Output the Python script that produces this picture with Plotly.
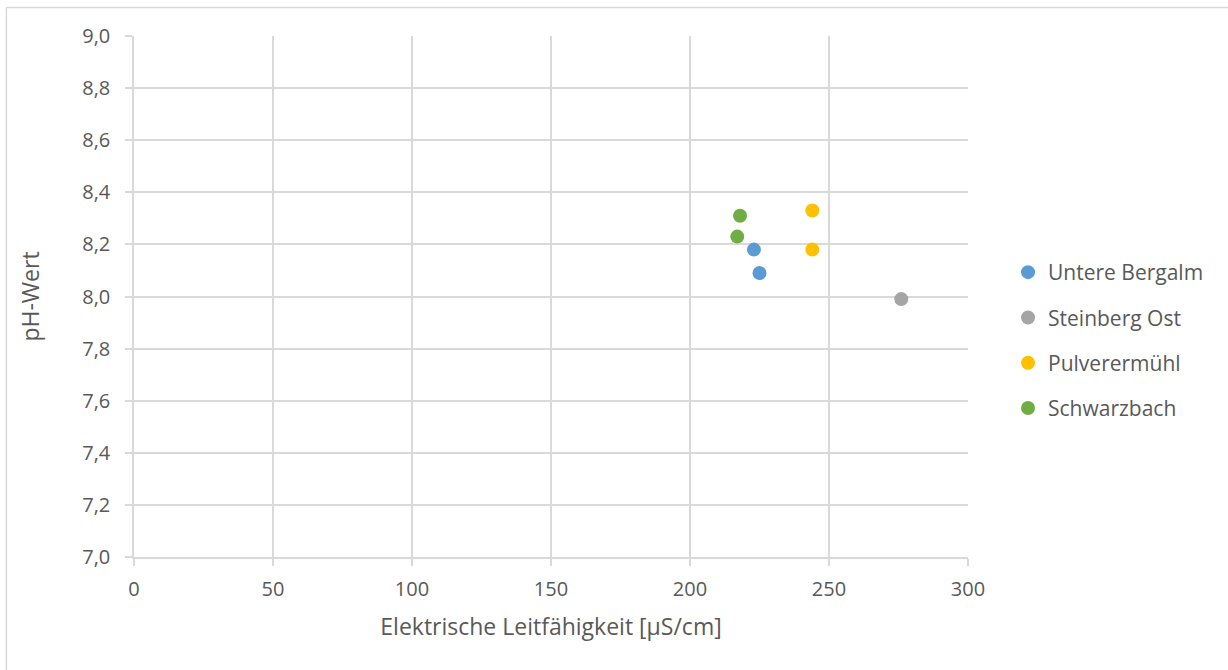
import plotly.graph_objects as go

# Messwerte je Standort: elektrische Leitfähigkeit [µS/cm] und pH-Wert
standorte = ["Untere Bergalm", "Steinberg Ost", "Pulverermühl", "Schwarzbach"]
farben = ["#5b9bd5", "#a5a5a5", "#ffc000", "#70ad47"]

leitfaehigkeit = [
    [223, 225],   # Untere Bergalm
    [276],        # Steinberg Ost
    [244, 244],   # Pulverermühl
    [218, 217],   # Schwarzbach
]
ph_wert = [
    [8.18, 8.09],
    [7.99],
    [8.33, 8.18],
    [8.31, 8.23],
]

x_ticks = [0, 50, 100, 150, 200, 250, 300]
y_ticks = [7.0, 7.2, 7.4, 7.6, 7.8, 8.0, 8.2, 8.4, 8.6, 8.8, 9.0]

FONT = "Open Sans, Calibri, sans-serif"
TEXT = "#595959"
GRID = "#d9d9d9"

fig = go.Figure()
for i, name in enumerate(standorte):
    fig.add_trace(go.Scatter(
        x=leitfaehigkeit[i], y=ph_wert[i], mode="markers", name=name,
        legendgroup=name,
        marker=dict(size=14, color=farben[i], line=dict(width=0)),
    ))

axis_common = dict(
    showgrid=True, gridcolor=GRID, gridwidth=1.5,
    showline=True, linecolor=GRID, linewidth=1.5,
    ticks="outside", ticklen=7, tickcolor=GRID, tickwidth=1.5,
    tickfont=dict(family=FONT, size=20, color=TEXT),
    zeroline=False, fixedrange=True,
)

fig.update_xaxes(
    range=[0, 300], tickvals=x_ticks, ticktext=[str(v) for v in x_ticks],
    ticklabelstandoff=6,
    title=dict(text="Elektrische Leitfähigkeit [µS/cm]", standoff=18,
               font=dict(family=FONT, size=23, color=TEXT)),
    **axis_common,
)
fig.update_yaxes(
    range=[7.0, 9.0], tickvals=y_ticks,
    ticktext=[f"{v:.1f}".replace(".", ",") for v in y_ticks],
    ticklabelstandoff=11,
    title=dict(text="pH-Wert", standoff=36,
               font=dict(family=FONT, size=23, color=TEXT)),
    **axis_common,
)

# Rahmen des Diagrammbereichs
fig.add_shape(type="line", xref="paper", yref="paper",
              x0=-0.153, x1=1.32, y0=1.0547, y1=1.0547,
              line=dict(color=GRID, width=1.5))
fig.add_shape(type="line", xref="paper", yref="paper",
              x0=-0.153, x1=-0.153, y0=1.0547, y1=-0.25,
              line=dict(color=GRID, width=1.5))

fig.update_layout(
    width=1228, height=670,
    margin=dict(l=134, r=260, t=36, b=113),
    paper_bgcolor="white", plot_bgcolor="white",
    font=dict(family=FONT, color=TEXT),
    legend=dict(
        x=1.048, y=0.4155, xanchor="left", yanchor="middle",
        font=dict(family=FONT, size=21, color=TEXT),
        tracegroupgap=15, itemwidth=30,
    ),
    showlegend=True,
)

fig.write_html("out.html")
